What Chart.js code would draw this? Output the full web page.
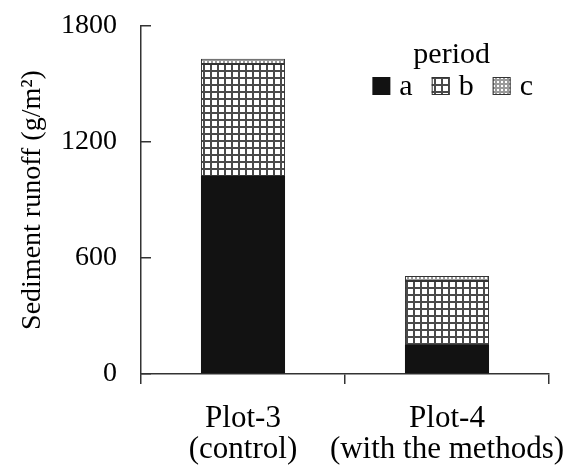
<!DOCTYPE html>
<html>
<head>
<meta charset="utf-8">
<script src="https://cdn.jsdelivr.net/npm/chart.js@4.4.1/dist/chart.umd.min.js"></script>
<style>
  html, body { margin: 0; padding: 0; background: #fff; }
  #caixa { width: 569px; height: 468px; }
</style>
</head>
<body>
<div id="caixa"><canvas id="graficoSedimento"></canvas></div>
<script>
// Dados (g/m²)
const categorias = [['Plot-3', '(control)'], ['Plot-4', '(with the methods)']];
const periodos = ['a', 'b', 'c'];
const valoresA = [1024, 150];
const valoresB = [580, 331];
const valoresC = [26, 26];
const ticksY = [0, 600, 1200, 1800];
const tituloLegenda = 'period';

const FONTE = '"Liberation Serif", "Times New Roman", serif';

// Padrão de grade pro periodo b
function padraoGrade() {
    const c = document.createElement('canvas');
    c.width = 7; c.height = 7;
    const g = c.getContext('2d');
    g.fillStyle = '#ffffff';
    g.fillRect(0, 0, 7, 7);
    g.fillStyle = '#4a4a4a';
    g.fillRect(0, 0, 2, 7);
    g.fillRect(0, 0, 7, 2);
    return g.createPattern(c, 'repeat');
}

// Padrão pontilhado pro periodo c
function padraoPontos() {
    const c = document.createElement('canvas');
    c.width = 4; c.height = 4;
    const g = c.getContext('2d');
    g.fillStyle = '#9a9a9a';
    g.fillRect(0, 0, 4, 4);
    g.fillStyle = '#ffffff';
    g.fillRect(1, 1, 2, 2);
    return g.createPattern(c, 'repeat');
}

const preenchimentos = ['#121212', padraoGrade(), padraoPontos()];
const bordas = [0, 1, 1];
const series = [valoresA, valoresB, valoresC];

const conjuntos = periodos.map(function (p, i) {
    return {
        label: p,
        data: series[i],
        backgroundColor: preenchimentos[i],
        borderColor: '#333333',
        borderWidth: bordas[i],
        borderSkipped: false,
        categoryPercentage: 1,
        barPercentage: 0.412
    };
});

// Legenda desenhada na mão dentro da área do gráfico (a do chart.js não fica horizontal ali)
const legendaDentro = {
    id: 'legendaDentro',
    afterDraw: function (chart) {
        const g = chart.ctx;
        const area = chart.chartArea;
        const caixa = 18;
        const depoisCaixa = 9;
        const entreItens = 19;
        g.save();
        g.font = '30px ' + FONTE;
        g.textBaseline = 'alphabetic';
        g.textAlign = 'left';

        // largura total pra alinhar pela direita
        let total = 0;
        chart.data.datasets.forEach(function (ds, i) {
            total += caixa + depoisCaixa + g.measureText(ds.label).width;
            if (i < chart.data.datasets.length - 1) total += entreItens;
        });
        let x = area.right - 16 - total;
        const inicio = x;
        const baseItens = area.top + 69;

        chart.data.datasets.forEach(function (ds) {
            g.fillStyle = ds.backgroundColor;
            g.fillRect(x, baseItens - caixa, caixa, caixa);
            if (ds.borderWidth > 0) {
                g.strokeStyle = ds.borderColor;
                g.lineWidth = 1;
                g.strokeRect(x + 0.5, baseItens - caixa + 0.5, caixa - 1, caixa - 1);
            }
            g.fillStyle = '#000';
            g.fillText(ds.label, x + caixa + depoisCaixa, baseItens);
            x += caixa + depoisCaixa + g.measureText(ds.label).width + entreItens;
        });

        // titulo centralizado em cima dos itens
        g.textAlign = 'center';
        g.fillText(tituloLegenda, inicio + total / 2 - 1, area.top + 37);
        g.restore();
    }
};

const fonteBase = { family: FONTE, size: 28 };

const ctx = document.getElementById('graficoSedimento').getContext('2d');
new Chart(ctx, {
    type: 'bar',
    data: { labels: categorias, datasets: conjuntos },
    plugins: [legendaDentro],
    options: {
        responsive: true,
        maintainAspectRatio: false,
        animation: false,
        devicePixelRatio: 1,
        layout: { padding: { top: 26, right: 20, bottom: 0, left: 0 } },
        plugins: {
            tooltip: { enabled: false },
            legend: { display: false }
        },
        scales: {
            x: {
                stacked: true,
                afterFit: function (escala) {
                    escala.height = 94;
                    escala.paddingLeft = 0;
                    escala.paddingRight = 0;
                },
                grid: { drawOnChartArea: false, offset: true, tickLength: 10, color: '#333', lineWidth: 1.5 },
                border: { color: '#333', width: 1.5 },
                ticks: {
                    color: '#000',
                    font: { family: FONTE, size: 31, lineHeight: 1.0 },
                    padding: 19,
                    maxRotation: 0,
                    autoSkip: false
                }
            },
            y: {
                stacked: true,
                min: 0,
                max: 1800,
                afterBuildTicks: function (escala) {
                    escala.ticks = ticksY.map(v => ({ value: v }));
                },
                afterFit: function (escala) {
                    escala.width = 141;
                    escala.paddingTop = 0;
                    escala.paddingBottom = 0;
                },
                grid: { drawOnChartArea: false, tickLength: -10, color: '#333', lineWidth: 1.5 },
                border: { color: '#333', width: 1.5 },
                ticks: {
                    color: '#000',
                    font: fonteBase,
                    padding: 34,
                    callback: function (v) { return String(v); }
                },
                title: {
                    display: true,
                    text: 'Sediment runoff (g/m²)',
                    color: '#000',
                    font: fonteBase,
                    padding: { top: 16, bottom: 10 }
                }
            }
        }
    }
});
</script>
</body>
</html>
